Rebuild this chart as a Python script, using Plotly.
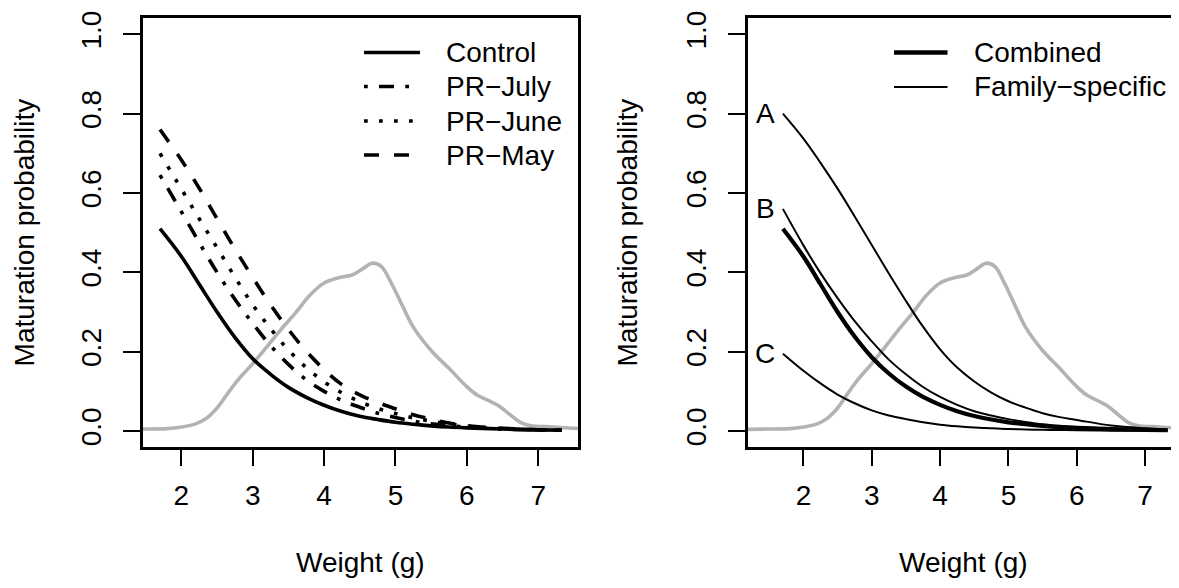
import plotly.graph_objects as go

# ---------------- data ----------------
weight = [1.7, 2.0, 2.25, 2.5, 2.75, 3.0, 3.25, 3.5, 3.75, 4.0, 4.25, 4.5,
          4.75, 5.0, 5.25, 5.5, 5.75, 6.0, 6.5, 7.0, 7.33]

control = [0.51, 0.44, 0.37, 0.30, 0.236, 0.182, 0.143, 0.11, 0.085, 0.065, 0.049,
           0.037, 0.029, 0.022, 0.017, 0.013, 0.010, 0.008, 0.005, 0.003, 0.002]
pr_july = [0.645, 0.553, 0.475, 0.40, 0.332, 0.271, 0.215, 0.168, 0.129, 0.100, 0.077,
           0.060, 0.045, 0.034, 0.025, 0.018, 0.014, 0.010, 0.005, 0.003, 0.002]
pr_june = [0.70, 0.61, 0.535, 0.462, 0.388, 0.318, 0.258, 0.204, 0.160, 0.124, 0.096,
           0.074, 0.057, 0.044, 0.033, 0.025, 0.018, 0.013, 0.006, 0.003, 0.002]
pr_may = [0.76, 0.683, 0.612, 0.535, 0.459, 0.387, 0.318, 0.256, 0.201, 0.155, 0.117,
          0.091, 0.072, 0.056, 0.041, 0.030, 0.020, 0.013, 0.007, 0.003, 0.002]

combined = [0.51, 0.44, 0.37, 0.30, 0.238, 0.186, 0.145, 0.112, 0.086, 0.066, 0.050,
            0.038, 0.029, 0.022, 0.017, 0.013, 0.010, 0.008, 0.005, 0.003, 0.002]
family_a = [0.80, 0.737, 0.676, 0.611, 0.541, 0.469, 0.397, 0.328, 0.263, 0.206, 0.160,
            0.125, 0.097, 0.075, 0.059, 0.045, 0.035, 0.028, 0.014, 0.007, 0.004]
family_b = [0.56, 0.468, 0.398, 0.335, 0.277, 0.226, 0.180, 0.143, 0.111, 0.086, 0.066,
            0.050, 0.039, 0.030, 0.023, 0.017, 0.013, 0.010, 0.006, 0.003, 0.002]
family_c = [0.195, 0.152, 0.12, 0.092, 0.07, 0.052, 0.039, 0.030, 0.022, 0.016, 0.012,
            0.009, 0.007, 0.005, 0.004, 0.003, 0.0025, 0.002, 0.001, 0.001, 0.0005]
family_labels = ["A", "B", "C"]

dens_x = [1.1, 1.46, 1.8, 2.0, 2.2, 2.35, 2.5, 2.65, 2.8, 3.0, 3.2, 3.4, 3.6, 3.8, 4.0,
          4.2, 4.4, 4.55, 4.67, 4.8, 4.95, 5.1, 5.25, 5.5, 5.75, 6.0, 6.15, 6.3, 6.45,
          6.6, 6.75, 6.9, 7.1, 7.3, 7.6]
dens_y = [0.004, 0.005, 0.006, 0.01, 0.018, 0.032, 0.058, 0.095, 0.13, 0.17, 0.213, 0.257,
          0.298, 0.342, 0.373, 0.386, 0.394, 0.41, 0.423, 0.415, 0.37, 0.315, 0.262,
          0.203, 0.158, 0.112, 0.09, 0.077, 0.063, 0.042, 0.022, 0.013, 0.011, 0.009,
          0.006]

x_ticks = [2, 3, 4, 5, 6, 7]
y_ticks = [0.0, 0.2, 0.4, 0.6, 0.8, 1.0]
left_names = ["Control", "PR\u2212July", "PR\u2212June", "PR\u2212May"]
right_names = ["Combined", "Family\u2212specific"]

# ---------------- layout helpers ----------------
# The page keeps the browser's default 8px body margin, so the figure is
# 1163x572 and sits at (8, 8); reference pixel positions are shifted by it.
OFF = 8
W, H = 1179 - 2 * OFF, 588 - 2 * OFF
FONT = "Liberation Sans, Arial, Helvetica, sans-serif"
FS = 28
def px(x):
    return min(1.0, (x - OFF) / W)
def py(y):
    return 1 - (y - OFF) / H

DOT = "3.75px,11.25px"
DASH = "15px,15px"
DOTDASH = "3.75px,11.25px,15px,11.25px"
GREY = "#b3b3b3"
LW = 3.6

fig = go.Figure()

# left panel
fig.add_trace(go.Scatter(x=dens_x, y=dens_y, mode="lines", line=dict(color=GREY, width=LW, shape="spline"),
                         xaxis="x", yaxis="y", showlegend=False, hoverinfo="skip"))
for vals, dash, name in [(control, "solid", left_names[0]), (pr_july, DOTDASH, left_names[1]),
                         (pr_june, DOT, left_names[2]), (pr_may, DASH, left_names[3])]:
    fig.add_trace(go.Scatter(x=weight, y=vals, mode="lines", name=name,
                             line=dict(color="black", width=LW, dash=dash, shape="spline"),
                             xaxis="x", yaxis="y", showlegend=False))

# right panel
fig.add_trace(go.Scatter(x=dens_x, y=dens_y, mode="lines", line=dict(color=GREY, width=LW, shape="spline"),
                         xaxis="x2", yaxis="y2", showlegend=False, hoverinfo="skip"))
for vals, lab in zip([family_a, family_b, family_c], family_labels):
    fig.add_trace(go.Scatter(x=weight, y=vals, mode="lines", name=lab,
                             line=dict(color="black", width=2.0, shape="spline"),
                             xaxis="x2", yaxis="y2", showlegend=False))
fig.add_trace(go.Scatter(x=weight, y=combined, mode="lines", name=right_names[0],
                         line=dict(color="black", width=4.2, shape="spline"),
                         xaxis="x2", yaxis="y2", showlegend=False))

axis_common = dict(showline=True, linecolor="black", linewidth=3,
                   ticks="outside", tickwidth=2.3, tickcolor="black", showgrid=False,
                   zeroline=False, ticklabeloverflow="allow",
                   tickfont=dict(family=FONT, size=FS, color="black"))

# right panel x range: its box runs off the right edge of the page
px_per_unit_r = (1145.1 - 803.4) / 5
x2_right = 7 + (OFF + W - 1145.1) / px_per_unit_r

y_top, y_bot = 10.5, 445
fig.update_layout(
    width=W, height=H, margin=dict(l=0, r=0, t=0, b=0),
    paper_bgcolor="white", plot_bgcolor="white", showlegend=False,
    font=dict(family=FONT, size=FS, color="black"),
    xaxis=dict(domain=[px(143), px(578)], range=[1.462, 7.558], anchor="y", mirror=True,
               tickvals=x_ticks, ticklen=16, ticklabelstandoff=6, **axis_common),
    yaxis=dict(domain=[py(y_bot), py(y_top)], range=[-0.04, 1.04], anchor="x", mirror=True,
               tickvals=y_ticks, tickformat=".1f", tickangle=-90, ticklen=17,
               ticklabelstandoff=11, **axis_common),
    xaxis2=dict(domain=[px(748), 1.0], range=[1.189, x2_right], anchor="y2", mirror=True,
                tickvals=x_ticks, ticklen=16, ticklabelstandoff=6, **axis_common),
    yaxis2=dict(domain=[py(y_bot), py(y_top)], range=[-0.04, 1.04], anchor="x2", mirror=False,
                tickvals=y_ticks, tickformat=".1f", tickangle=-90, ticklen=17,
                ticklabelstandoff=11, **axis_common),
)

ann = []
for xc in [360.5, 963]:
    ann.append(dict(text="Weight (g)", x=px(xc), y=py(562), xref="paper", yref="paper",
                    showarrow=False, xanchor="center", yanchor="middle", font=dict(size=FS)))
for xc in [24.5, 627.6]:
    ann.append(dict(text="Maturation probability", x=px(xc), y=py(228), xref="paper", yref="paper",
                    showarrow=False, xanchor="center", yanchor="middle", textangle=-90,
                    font=dict(size=FS)))
for vals, lab in zip([family_a, family_b, family_c], family_labels):
    ann.append(dict(text=lab, x=weight[0], y=vals[0], xref="x2", yref="y2", showarrow=False,
                    xanchor="right", yanchor="middle", xshift=-6, font=dict(size=FS)))

shapes = []
leg_rows = [45, 79.5, 114.5, 149]
leg_dash = ["solid", DOTDASH, DOT, DASH]
for yy, name, dash in zip(leg_rows, left_names, leg_dash):
    shapes.append(dict(type="line", xref="paper", yref="paper", x0=px(364), x1=px(420),
                       y0=py(yy), y1=py(yy), line=dict(color="black", width=LW, dash=dash)))
    ann.append(dict(text=name, x=px(444), y=py(yy), xref="paper", yref="paper", showarrow=False,
                    xanchor="left", yanchor="middle", font=dict(size=FS)))
for yy, name, w in zip([45, 80], right_names, [4.5, 2.0]):
    shapes.append(dict(type="line", xref="paper", yref="paper", x0=px(894), x1=px(947.5),
                       y0=py(yy), y1=py(yy), line=dict(color="black", width=w)))
    ann.append(dict(text=name, x=px(972), y=py(yy), xref="paper", yref="paper", showarrow=False,
                    xanchor="left", yanchor="middle", font=dict(size=FS)))

fig.update_layout(annotations=ann, shapes=shapes)
fig.write_html("out.html", config={"displayModeBar": False})
